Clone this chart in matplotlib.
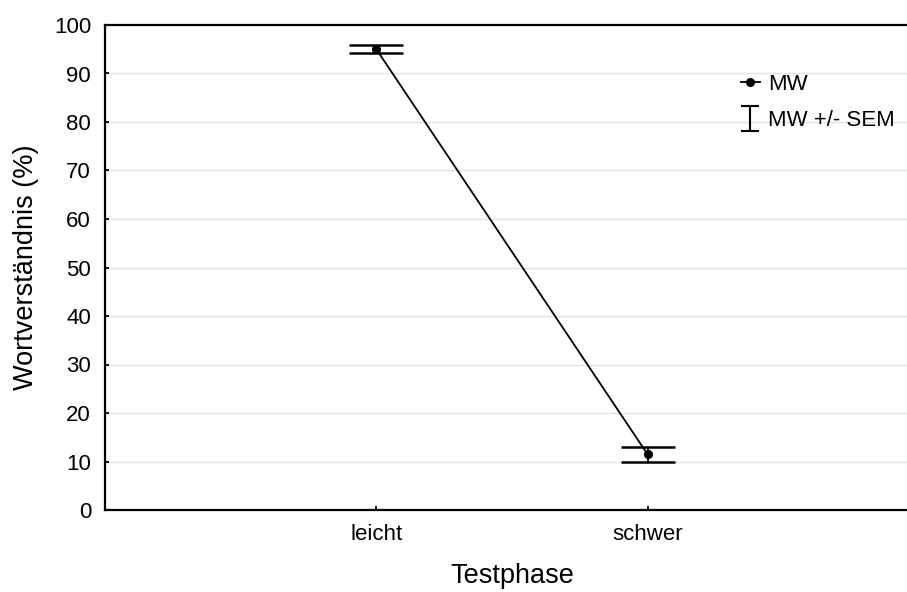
import matplotlib.pyplot as plt
from matplotlib.lines import Line2D
from matplotlib.path import Path

plt.rcParams['font.family'] = ['Liberation Sans', 'DejaVu Sans']

# Mittelwerte und Standardfehler je Testphase
phasen = ['leicht', 'schwer']
mw = [95.0, 11.45]
sem = [0.8, 1.45]
pos = [1, 2]

fig = plt.figure(figsize=(9.07, 5.92), dpi=100)
ax = fig.add_axes([105 / 907, 1 - 510 / 592, 814 / 907, 485 / 592])

# Gitterlinien
ax.set_yticks(range(0, 101, 10))
ax.yaxis.grid(True, color='#e2e2e2', lw=1)
ax.set_axisbelow(True)

ax.plot(pos, mw, color='black', lw=1.3, marker='o', ms=5.5, zorder=3)
ax.errorbar(pos, mw, yerr=sem, fmt='none', ecolor='black', elinewidth=1.3,
            capsize=19.5, capthick=1.8, zorder=2)

ax.set_xlim(0, 3)
ax.set_ylim(0, 100)
ax.set_xticks(pos)
ax.set_xticklabels(phasen)
ax.tick_params(direction='in', length=3, width=1.3, labelsize=16)
ax.tick_params(axis='x', pad=10)
ax.tick_params(axis='y', pad=10)
for s in ['left', 'top', 'bottom']:
    ax.spines[s].set_linewidth(1.6)
ax.spines['right'].set_visible(False)

ax.set_xlabel('Testphase', fontsize=19.5, labelpad=13)
ax.set_ylabel('Wortverständnis (%)', fontsize=19.5, labelpad=11)

# Legendensymbole: Punkt mit Linie und I-förmiger Fehlerbalken
i_form = Path([(-0.7, 1), (0.7, 1), (0, 1), (0, -1), (-0.7, -1), (0.7, -1)],
              [Path.MOVETO, Path.LINETO, Path.MOVETO, Path.LINETO,
               Path.MOVETO, Path.LINETO])
mw_handle = Line2D([], [], color='black', lw=1.3, marker='o', ms=5.5)
sem_handle = Line2D([], [], ls='none', marker=i_form, ms=18, mew=1.5,
                    mec='black', mfc='none')
ax.legend([mw_handle, sem_handle], ['MW', 'MW +/- SEM'], loc='upper left',
          bbox_to_anchor=(0.77, 0.917), borderaxespad=0, frameon=False,
          fontsize=16, handlelength=0.85, handletextpad=0.4, labelspacing=0.65)

fig.savefig('out.png', dpi=100)
